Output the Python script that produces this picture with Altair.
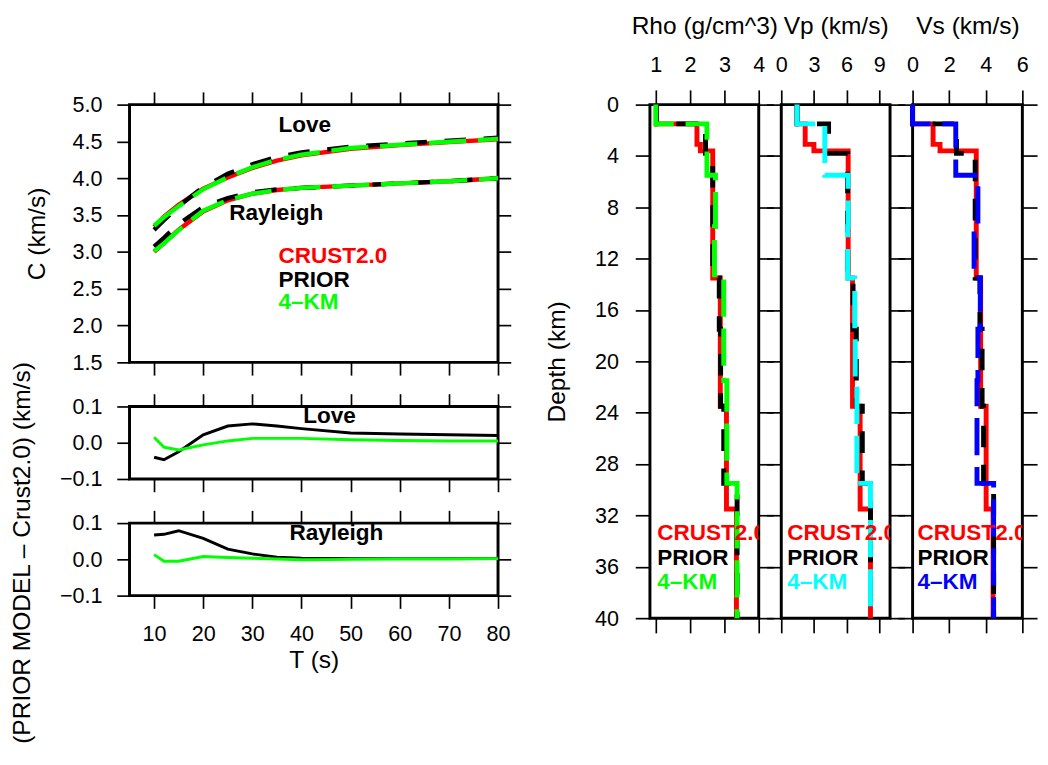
import altair as alt
import pandas as pd

# ---------------- dispersion curves (left) ----------------
periods = [10, 12, 15, 20, 25, 30, 35, 40, 50, 60, 70, 80]

love_crust = [3.34, 3.48, 3.64, 3.86, 4.01, 4.14, 4.24, 4.31, 4.40, 4.45, 4.49, 4.53]
love_prior = [3.30, 3.43, 3.62, 3.88, 4.06, 4.19, 4.29, 4.35, 4.43, 4.47, 4.51, 4.55]
love_4km = [3.355, 3.47, 3.62, 3.85, 4.015, 4.15, 4.25, 4.32, 4.41, 4.455, 4.495, 4.535]
ray_crust = [3.00, 3.12, 3.30, 3.55, 3.70, 3.79, 3.84, 3.87, 3.90, 3.93, 3.96, 4.00]
ray_prior = [3.07, 3.19, 3.38, 3.61, 3.73, 3.81, 3.85, 3.87, 3.90, 3.93, 3.96, 4.00]
ray_4km = [3.01, 3.115, 3.295, 3.56, 3.705, 3.79, 3.84, 3.87, 3.90, 3.93, 3.96, 4.00]

love_diff_prior = [-0.040, -0.047, -0.025, 0.022, 0.046, 0.052, 0.046, 0.039, 0.027, 0.024, 0.022, 0.020]
love_diff_4km = [0.015, -0.012, -0.020, -0.006, 0.005, 0.012, 0.012, 0.012, 0.008, 0.006, 0.005, 0.005]
ray_diff_prior = [0.067, 0.069, 0.079, 0.058, 0.028, 0.015, 0.006, 0.003, 0.002, 0.002, 0.002, 0.002]
ray_diff_4km = [0.013, -0.005, -0.005, 0.008, 0.005, 0.003, 0.001, -0.001, 0.000, 0.001, 0.001, 0.002]

x_ticks = [10, 20, 30, 40, 50, 60, 70, 80]
c_ticks = [1.5, 2.0, 2.5, 3.0, 3.5, 4.0, 4.5, 5.0]
d_ticks = [-0.1, 0.0, 0.1]

# annotations of the top panel (T, C)
top_labels = ["Love", "Rayleigh", "CRUST2.0", "PRIOR", "4–KM"]
top_label_T = [35.3, 25.3, 35.3, 35.3, 35.3]
top_label_C = [4.72, 3.52, 2.94, 2.62, 2.32]
top_label_col = ["#000000", "#000000", "#ff0000", "#000000", "#00ff00"]

# ---------------- layered models (right) ----------------
crust_tops = [0, 1.5, 3.1, 3.6, 13.5, 23.5, 31.5]
crust_rho = [1.02, 2.20, 2.30, 2.66, 2.88, 3.06, 3.35]
crust_vp = [1.45, 2.20, 3.00, 6.15, 6.55, 7.25, 8.20]
crust_vs = [0.00, 1.12, 1.50, 3.48, 3.72, 4.02, 4.40]

prior_tops = [0, 1.5, 3.8, 13.5, 17.5, 23.5, 29.5]
prior_rho = [1.02, 2.45, 2.66, 2.85, 2.89, 2.98, 3.37]
prior_vp = [1.45, 4.35, 6.10, 6.60, 6.90, 7.45, 8.20]
prior_vs = [0.00, 2.40, 3.42, 3.68, 3.80, 3.88, 4.43]

km4_tops = [0, 1.5, 5.5, 9.5, 13.5, 17.5, 21.5, 25.5, 29.5]
km4_rho = [1.00, 2.49, 2.74, 2.71, 2.98, 2.98, 3.07, 3.07, 3.37]
km4_vp = [1.45, 4.00, 6.15, 6.10, 6.75, 6.80, 6.95, 6.95, 8.20]
km4_vs = [0.00, 2.36, 3.57, 3.36, 3.70, 3.57, 3.52, 3.52, 4.43]

depth_ticks = [0, 4, 8, 12, 16, 20, 24, 28, 32, 36, 40]
legend_texts = ["CRUST2.0", "PRIOR", "4–KM"]
legend_depths = [33.4, 35.3, 37.2]

RED, BLACK, GREEN, CYAN, BLUE = "#ff0000", "#000000", "#00ff00", "#00ffff", "#0000ff"
FONT = "Liberation Sans"
DASH_BLACK = [22, 18]
DASH_COL = [38, 12]
ANN_SIZE = 23

XS = alt.Scale(domain=[5, 80], nice=False, zero=False)


def curves_df(pairs):
    rows = []
    for wave, vals in pairs:
        for t, v in zip(periods, vals):
            rows.append({"T": t, "v": v, "wave": wave})
    return pd.DataFrame(rows)


def line_layer(df, ysc, color, width, dash=None):
    kw = dict(color=color, strokeWidth=width, strokeCap="butt", strokeJoin="miter")
    if dash:
        kw["strokeDash"] = dash
    return alt.Chart(df).mark_line(**kw).encode(
        x=alt.X("T:Q", scale=XS, axis=None),
        y=alt.Y("v:Q", scale=ysc, axis=None),
        detail="wave:N",
    )


def text_layer(df, xfield, yfield, xsc, ysc, clip=False):
    return alt.Chart(df).mark_text(
        font=FONT, fontSize=ANN_SIZE, fontWeight="bold", align="left", baseline="middle", clip=clip
    ).encode(
        x=alt.X(f"{xfield}:Q", scale=xsc, axis=None),
        y=alt.Y(f"{yfield}:Q", scale=ysc, axis=None),
        text="label:N",
        color=alt.Color("color:N", scale=None),
    )


def left_axes(ysc, yticks, ytitle=None, ytitle_x=None, ytitle_y=None, xlabels=False, xtitle=None):
    ghost = pd.DataFrame({"T": [10.0], "v": [yticks[1]]})
    yax = dict(orient="left", values=yticks, format=".1f", tickSize=13, labelPadding=15)
    if ytitle:
        yax.update(title=ytitle, titleX=ytitle_x)
        if ytitle_y is not None:
            yax["titleY"] = ytitle_y
    else:
        yax["title"] = None
    xax = dict(orient="bottom", values=x_ticks, labels=xlabels, tickSize=13, labelPadding=16)
    if xtitle:
        xax.update(title=xtitle, titleY=53)
    else:
        xax["title"] = None
    main = alt.Chart(ghost).mark_point(opacity=0).encode(
        x=alt.X("T:Q", scale=XS, axis=alt.Axis(**xax)),
        y=alt.Y("v:Q", scale=ysc, axis=alt.Axis(**yax)),
    )
    mirror = alt.Chart(ghost).mark_point(opacity=0).encode(
        x=alt.X("T:Q", scale=XS, axis=alt.Axis(orient="top", values=x_ticks, labels=False, tickSize=13, title=None)),
        y=alt.Y("v:Q", scale=ysc, axis=alt.Axis(orient="right", values=yticks, labels=False, tickSize=13, title=None)),
    )
    return [main, mirror]


# ---- top-left panel ----
YC = alt.Scale(domain=[1.5, 5.0], nice=False, zero=False)
df_crust = curves_df([("Love", love_crust), ("Rayleigh", ray_crust)])
df_prior = curves_df([("Love", love_prior), ("Rayleigh", ray_prior)])
df_4km = curves_df([("Love", love_4km), ("Rayleigh", ray_4km)])
df_top_lab = pd.DataFrame({"label": top_labels, "T": top_label_T, "v": top_label_C, "color": top_label_col})

top_panel = alt.layer(
    line_layer(df_crust, YC, RED, 4.5),
    line_layer(df_prior, YC, BLACK, 4.5, DASH_BLACK),
    line_layer(df_4km, YC, GREEN, 4.5, DASH_COL),
    text_layer(df_top_lab, "T", "v", XS, YC),
    *left_axes(YC, c_ticks, ytitle="C (km/s)", ytitle_x=-82),
).resolve_axis(x="independent", y="independent").properties(width=376, height=263)

# ---- difference panels ----
YD = alt.Scale(domain=[-0.1, 0.1], nice=False, zero=False)


def diff_panel(prior_vals, km_vals, wave, lab_T, lab_v, **axkw):
    dp = curves_df([(wave, prior_vals)])
    dk = curves_df([(wave, km_vals)])
    lab = pd.DataFrame({"label": [wave], "T": [lab_T], "v": [lab_v], "color": [BLACK]})
    txt = alt.Chart(lab).mark_text(
        font=FONT, fontSize=ANN_SIZE, fontWeight="bold", align="center", baseline="middle"
    ).encode(
        x=alt.X("T:Q", scale=XS, axis=None),
        y=alt.Y("v:Q", scale=YD, axis=None),
        text="label:N",
        color=alt.Color("color:N", scale=None),
    )
    return alt.layer(
        line_layer(dp, YD, BLACK, 3),
        line_layer(dk, YD, GREEN, 3),
        txt,
        *left_axes(YD, d_ticks, **axkw),
    ).resolve_axis(x="independent", y="independent").properties(width=376, height=74)


mid_panel = diff_panel(love_diff_prior, love_diff_4km, "Love", 45.7, 0.072)
bot_panel = diff_panel(
    ray_diff_prior, ray_diff_4km, "Rayleigh", 47.1, 0.073,
    ytitle="(PRIOR MODEL – Crust2.0) (km/s)", ytitle_x=-97, ytitle_y=30,
    xlabels=True, xtitle="T (s)",
)

# ---- depth panels ----
DS = alt.Scale(domain=[0, 40], reverse=True, nice=False, zero=False)


def step_df(tops, vals, bottom=40):
    rows = []
    for k, (t, v) in enumerate(zip(tops, vals)):
        b = tops[k + 1] if k + 1 < len(tops) else bottom
        rows.append({"val": v, "depth": t, "i": 2 * k})
        rows.append({"val": v, "depth": b, "i": 2 * k + 1})
    return pd.DataFrame(rows)


def step_layer(df, xsc, color, dash=None):
    kw = dict(color=color, strokeWidth=5, strokeCap="butt", strokeJoin="miter")
    if dash:
        kw["strokeDash"] = dash
    return alt.Chart(df).mark_line(**kw).encode(
        x=alt.X("val:Q", scale=xsc, axis=None),
        y=alt.Y("depth:Q", scale=DS, axis=None),
        order=alt.Order("i:Q"),
    )


def depth_panel(title, xdomain, xticks, crust, prior, km4, kmcolor, legend_x, width, first=False):
    xsc = alt.Scale(domain=xdomain, nice=False, zero=False)
    ghost = pd.DataFrame({"val": [xticks[1]], "depth": [20.0]})
    yax = dict(orient="left", values=depth_ticks, tickSize=15, labelPadding=17, labels=first)
    if first:
        yax.update(title="Depth (km)", titleX=-82)
    else:
        yax["title"] = None
    main = alt.Chart(ghost).mark_point(opacity=0).encode(
        x=alt.X("val:Q", scale=xsc, axis=alt.Axis(orient="top", values=xticks, tickSize=15,
                                                  labelPadding=14, title=title, titleY=-68)),
        y=alt.Y("depth:Q", scale=DS, axis=alt.Axis(**yax)),
    )
    mirror = alt.Chart(ghost).mark_point(opacity=0).encode(
        x=alt.X("val:Q", scale=xsc, axis=alt.Axis(orient="bottom", values=xticks, labels=False, tickSize=15, title=None)),
        y=alt.Y("depth:Q", scale=DS, axis=alt.Axis(orient="right", values=depth_ticks, labels=False, tickSize=15, title=None)),
    )
    lab = pd.DataFrame({
        "label": legend_texts,
        "val": [legend_x] * 3,
        "depth": legend_depths,
        "color": [RED, BLACK, kmcolor],
    })
    return alt.layer(
        step_layer(step_df(crust_tops, crust), xsc, RED),
        step_layer(step_df(prior_tops, prior), xsc, BLACK, DASH_BLACK),
        step_layer(step_df(km4_tops, km4), xsc, kmcolor, DASH_COL),
        text_layer(lab, "val", "depth", xsc, DS, clip=True),
        main,
        mirror,
    ).resolve_axis(x="independent", y="independent").properties(width=width, height=524)


rho_panel = depth_panel("Rho (g/cm^3)", [0.83, 4.0], [1, 2, 3, 4], crust_rho, prior_rho, km4_rho, GREEN, 1.04, 111, first=True)
vp_panel = depth_panel("Vp (km/s)", [0, 10], [0, 3, 6, 9], crust_vp, prior_vp, km4_vp, CYAN, 0.54, 111)
vs_panel = depth_panel("Vs (km/s)", [0, 6], [0, 2, 4, 6], crust_vs, prior_vs, km4_vs, BLUE, 0.27, 112)

left_col = alt.vconcat(top_panel, mid_panel, bot_panel, spacing=45, bounds="flush")
right_row = alt.hconcat(rho_panel, vp_panel, vs_panel, spacing=23, bounds="flush")

chart = alt.hconcat(
    left_col, right_row, spacing=30
).properties(
    padding={"left": 0, "top": -4, "right": 0, "bottom": 0}
).configure_view(
    stroke="black", strokeWidth=3
).configure_axis(
    domain=False, grid=False, tickColor="black", tickWidth=1.7,
    labelFont=FONT, labelFontSize=22, labelColor="black", labelFlush=False, labelOverlap=False,
    titleFont=FONT, titleFontSize=25, titleFontWeight="normal", titleColor="black",
)

chart.save("out.html", embed_options={"renderer": "svg", "actions": False})
